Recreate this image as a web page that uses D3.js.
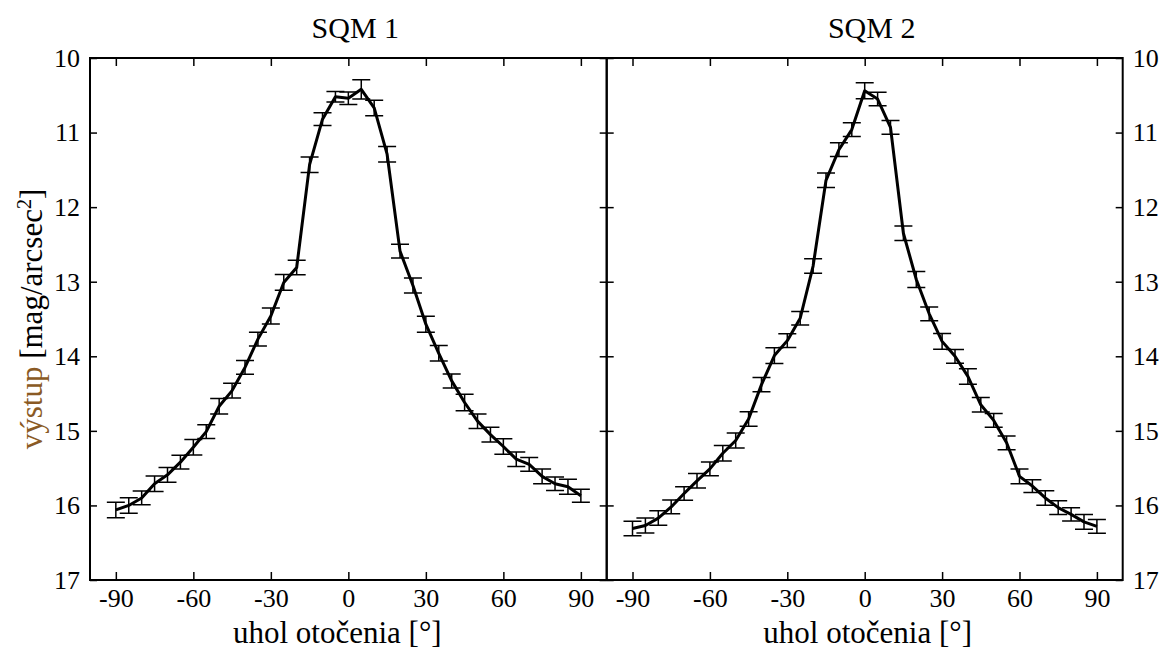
<!DOCTYPE html>
<html>
<head>
<meta charset="utf-8">
<script src="https://cdn.jsdelivr.net/npm/d3@7"></script>
<style>
  body { margin: 0; background: #fff; }
</style>
</head>
<body>
<div id="chart"></div>
<script>
// uhol otočenia (stupne)
const angles = [-90, -85, -80, -75, -70, -65, -60, -55, -50, -45, -40, -35, -30, -25, -20, -15, -10, -5,
  0, 5, 10, 15, 20, 25, 30, 35, 40, 45, 50, 55, 60, 65, 70, 75, 80, 85, 90];

// SQM 1 výstup a chyby
const sqm1 = [16.06, 16.00, 15.90, 15.71, 15.59, 15.42, 15.22, 15.01, 14.67, 14.46, 14.15, 13.77, 13.46, 13.01, 12.81, 11.43, 10.82, 10.52,
  10.54, 10.42, 10.67, 11.29, 12.59, 13.05, 13.57, 13.96, 14.33, 14.62, 14.87, 15.05, 15.21, 15.38, 15.45, 15.61, 15.71, 15.75, 15.87];
const sqm1Err = [0.104, 0.104, 0.092, 0.104, 0.10, 0.092, 0.104, 0.092, 0.104, 0.10, 0.092, 0.092, 0.108, 0.106, 0.097, 0.104, 0.085, 0.07,
  0.085, 0.13, 0.104, 0.104, 0.092, 0.10, 0.108, 0.104, 0.094, 0.11, 0.097, 0.10, 0.104, 0.097, 0.092, 0.10, 0.09, 0.10, 0.088];

// SQM 2 výstup a chyby
const sqm2 = [16.31, 16.27, 16.17, 16.02, 15.84, 15.67, 15.51, 15.30, 15.13, 14.84, 14.38, 13.99, 13.79, 13.49, 12.79, 11.64, 11.23, 10.96,
  10.44, 10.55, 10.93, 12.35, 12.97, 13.43, 13.80, 14.00, 14.27, 14.65, 14.86, 15.16, 15.61, 15.74, 15.90, 16.03, 16.12, 16.22, 16.28];
const sqm2Err = [0.097, 0.10, 0.097, 0.092, 0.092, 0.097, 0.092, 0.104, 0.10, 0.097, 0.097, 0.106, 0.092, 0.092, 0.097, 0.097, 0.092, 0.092,
  0.107, 0.092, 0.092, 0.097, 0.106, 0.092, 0.106, 0.092, 0.104, 0.097, 0.092, 0.092, 0.10, 0.085, 0.097, 0.092, 0.088, 0.10, 0.092];

const panelTitles = ['SQM 1', 'SQM 2'];
const xTicks = [-90, -60, -30, 0, 30, 60, 90];
const yTicks = [10, 11, 12, 13, 14, 15, 16, 17];

const width = 1164, height = 652;
const plotTop = 58, plotBottom = 580;
const serif = '"Liberation Serif", "Times New Roman", serif';

const svg = d3.select('#chart')
  .append('svg')
  .attr('width', width)
  .attr('height', height)
  .style('font-family', serif);

svg.append('rect')
  .attr('width', width)
  .attr('height', height)
  .attr('fill', '#fff');

const y = d3.scaleLinear()
  .domain([10, 17])
  .range([plotTop, plotBottom]);

const panels = [
  { title: panelTitles[0], values: sqm1, errs: sqm1Err, x0: 90, x1: 606.7, labelLeft: true, labelRight: false, xlabShift: -11 },
  { title: panelTitles[1], values: sqm2, errs: sqm2Err, x0: 606.7, x1: 1122.7, labelLeft: false, labelRight: true, xlabShift: 3 }
];

const fmt = d => String(d);

function styleAxis(sel, showText) {
  sel.attr('font-family', serif);
  sel.select('.domain').remove();
  sel.selectAll('.tick line').attr('stroke', '#000').attr('stroke-width', 1.5);
  sel.selectAll('.tick text')
    .attr('fill', '#000')
    .style('font-family', serif)
    .style('font-size', '26px');
  if (!showText) sel.selectAll('.tick text').remove();
}

panels.forEach(p => {
  const x = d3.scaleLinear()
    .domain([-100, 100])
    .range([p.x0, p.x1]);

  const g = svg.append('g');

  // osi
  g.append('g')
    .attr('transform', `translate(0,${plotBottom})`)
    .call(d3.axisBottom(x).tickValues(xTicks).tickFormat(fmt).tickSizeInner(-8).tickSizeOuter(0).tickPadding(9))
    .call(s => styleAxis(s, true));

  g.append('g')
    .attr('transform', `translate(0,${plotTop})`)
    .call(d3.axisTop(x).tickValues(xTicks).tickFormat(fmt).tickSizeInner(-8).tickSizeOuter(0))
    .call(s => styleAxis(s, false));

  g.append('g')
    .attr('transform', `translate(${p.x0},0)`)
    .call(d3.axisLeft(y).tickValues(yTicks).tickFormat(fmt).tickSizeInner(-7).tickSizeOuter(0).tickPadding(10))
    .call(s => styleAxis(s, p.labelLeft));

  g.append('g')
    .attr('transform', `translate(${p.x1},0)`)
    .call(d3.axisRight(y).tickValues(yTicks).tickFormat(fmt).tickSizeInner(-7).tickSizeOuter(0).tickPadding(10))
    .call(s => styleAxis(s, p.labelRight));

  // rám
  g.append('rect')
    .attr('x', p.x0)
    .attr('y', plotTop)
    .attr('width', p.x1 - p.x0)
    .attr('height', plotBottom - plotTop)
    .attr('fill', 'none')
    .attr('stroke', '#000')
    .attr('stroke-width', 2);

  const pts = angles.map((a, i) => ({ a, v: p.values[i], e: p.errs[i] }));

  // chybové úsečky
  const eb = g.append('g')
    .attr('stroke', '#000')
    .attr('stroke-width', 1.5)
    .attr('fill', 'none');

  eb.selectAll('path')
    .data(pts)
    .enter()
    .append('path')
    .attr('d', d => {
      const cx = x(d.a), y1 = y(d.v - d.e), y2 = y(d.v + d.e);
      return `M${cx - 9},${y1}H${cx + 9}M${cx},${y1}V${y2}M${cx - 9},${y2}H${cx + 9}`;
    });

  // krivka
  const line = d3.line()
    .x(d => x(d.a))
    .y(d => y(d.v));

  g.append('path')
    .datum(pts)
    .attr('fill', 'none')
    .attr('stroke', '#000')
    .attr('stroke-width', 3)
    .attr('stroke-linejoin', 'round')
    .attr('d', line);

  // nadpis
  g.append('text')
    .attr('x', x(0) + 7)
    .attr('y', 38)
    .attr('text-anchor', 'middle')
    .style('font-family', serif)
    .style('font-size', '30px')
    .text(p.title);

  // popis osi x
  g.append('text')
    .attr('x', x(0) + p.xlabShift)
    .attr('y', 643)
    .attr('text-anchor', 'middle')
    .style('font-family', serif)
    .style('font-size', '31px')
    .text('uhol otočenia [°]');
});

// popis osi y
const ylab = svg.append('text')
  .attr('transform', `translate(42,${(plotTop + plotBottom) / 2}) rotate(-90)`)
  .attr('text-anchor', 'middle')
  .style('font-family', serif)
  .style('font-size', '31px');

ylab.append('tspan').attr('fill', '#8a5a24').text('výstup');
ylab.append('tspan').attr('fill', '#000').text(' [mag/arcsec');
ylab.append('tspan').attr('fill', '#000').attr('dy', '-0.55em').style('font-size', '20px').text('2');
ylab.append('tspan').attr('fill', '#000').attr('dy', '0.37em').text(']');
</script>
</body>
</html>
